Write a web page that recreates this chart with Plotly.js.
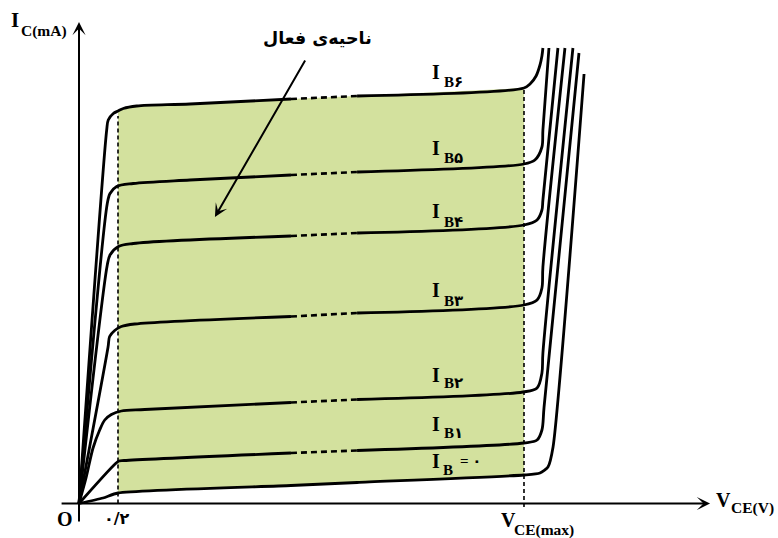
<!DOCTYPE html>
<html><head><meta charset="utf-8">
<script src="https://cdn.plot.ly/plotly-3.0.1.min.js"></script>
<style>html,body{margin:0;padding:0;background:#fff}</style>
</head><body><div id="chart" style="width:778px;height:538px"></div>
<script>
// ---- Data (V_CE in V, I_C in mA) ----
const VCE_SAT = 0.2;          // edge of saturation (۰/۲)
const VCE_MAX = 2.282;        // V_CE(max)
const DASH_FROM = 1.087;      // start of dashed (omitted) stretch
const DASH_TO = 1.426;        // end of dashed stretch

const ib6_v = [0, 0.142, 0.150, 0.176, 0.200, 0.227, 0.296, 0.569, 1.087, 1.426, 2.282, 2.313, 2.344, 2.364, 2.374, 2.379];
const ib6_i = [0, 7.47, 7.67, 7.80, 7.85, 7.90, 7.95, 7.99, 8.09, 8.15, 8.31, 8.39, 8.55, 8.77, 8.95, 9.11];

const ib5_v = [0, 0.145, 0.159, 0.193, 0.278, 0.569, 1.087, 1.426, 2.282, 2.338, 2.374, 2.379, 2.410];
const ib5_i = [0, 6.00, 6.20, 6.34, 6.40, 6.47, 6.57, 6.63, 6.79, 6.87, 7.13, 7.47, 9.11];

const ib4_v = [0, 0.145, 0.159, 0.202, 0.278, 1.087, 1.426, 2.282, 2.349, 2.374, 2.379, 2.456];
const ib4_i = [0, 4.77, 4.97, 5.14, 5.20, 5.35, 5.41, 5.57, 5.67, 5.87, 6.07, 9.11];

const ib3_v = [0, 0.149, 0.157, 0.183, 0.217, 0.286, 1.087, 1.426, 2.282, 2.349, 2.374, 2.379, 2.492];
const ib3_i = [0, 3.13, 3.34, 3.46, 3.54, 3.59, 3.74, 3.81, 3.97, 4.07, 4.31, 4.73, 9.11];

const ib2_v = [0, 0.036, 0.072, 0.106, 0.132, 0.166, 0.217, 0.337, 1.087, 1.426, 2.277, 2.349, 2.374, 2.379, 2.533];
const ib2_i = [0, 0.51, 1.11, 1.47, 1.67, 1.78, 1.85, 1.88, 2.02, 2.08, 2.23, 2.31, 2.61, 3.01, 9.11];

const ib1_v = [0, 0.185, 0.205, 0.231, 1.087, 1.426, 2.282, 2.349, 2.374, 2.385, 2.564];
const ib1_i = [0, 0.79, 0.85, 0.86, 1.01, 1.06, 1.21, 1.27, 1.47, 1.93, 9.01];

const ib0_v = [0, 0.123, 0.200, 1.087, 1.426, 2.282, 2.364, 2.405, 2.431, 2.590];
const ib0_i = [0, 0.11, 0.21, 0.36, 0.42, 0.57, 0.61, 0.73, 1.13, 8.59];

const curveLabels = ['۶', '۵', '۴', '۳', '۲', '۱'];
const dashedCurves = [[ib6_v, ib6_i], [ib5_v, ib5_i], [ib4_v, ib4_i], [ib3_v, ib3_i], [ib2_v, ib2_i], [ib1_v, ib1_i]];

// ---- Styles ----
const BLACK = '#000';
const GREEN = 'rgb(211,225,158)';
const SERIF = '"Liberation Serif","Times New Roman","DejaVu Sans",serif';
const FA = '"DejaVu Sans",sans-serif';
const W = 778, H = 538;

function at(vArr, iArr, v) { const k = vArr.indexOf(v); return iArr[k]; }

const traces = [];
// green active region: between IB6 (top) and IB0 (bottom), V_CE from 0.2 to V_CE(max)
const topV = [], topI = [], botV = [], botI = [];
ib6_v.forEach((v, k) => { if (v >= VCE_SAT && v <= VCE_MAX) { topV.push(v); topI.push(ib6_i[k]); } });
ib0_v.forEach((v, k) => { if (v >= VCE_SAT && v <= VCE_MAX) { botV.push(v); botI.push(ib0_i[k]); } });
traces.push({
  x: topV.concat(botV.slice().reverse()), y: topI.concat(botI.slice().reverse()),
  mode: 'lines', fill: 'toself', fillcolor: GREEN, line: {width: 0, color: GREEN}, hoverinfo: 'skip'
});

// vertical dashed guides
traces.push({x: [VCE_SAT, VCE_SAT], y: [0, at(ib6_v, ib6_i, VCE_SAT) - 0.1], mode: 'lines',
  line: {color: BLACK, width: 1.6, dash: '4px,3px'}});
traces.push({x: [VCE_MAX, VCE_MAX], y: [-0.07, at(ib6_v, ib6_i, VCE_MAX)], mode: 'lines',
  line: {color: BLACK, width: 1.6, dash: '4px,3px'}});

const solid = {color: BLACK, width: 2.8, shape: 'spline', smoothing: 0.9};
function part(v, i, lo, hi) {
  const x = [], y = [];
  v.forEach((vv, k) => { if (vv >= lo && vv <= hi) { x.push(vv); y.push(i[k]); } });
  return {x, y};
}
dashedCurves.forEach(([v, i]) => {
  const a = part(v, i, -1, DASH_FROM), b = part(v, i, DASH_FROM, DASH_TO), c = part(v, i, DASH_TO, 99);
  traces.push(Object.assign({mode: 'lines', line: solid}, a));
  traces.push(Object.assign({mode: 'lines', line: {color: BLACK, width: 2.6, dash: '6px,4px'}}, b));
  traces.push(Object.assign({mode: 'lines', line: solid}, c));
});
traces.push({x: ib0_v, y: ib0_i, mode: 'lines', line: {color: BLACK, width: 2.8, shape: 'spline', smoothing: 0.6}});

// ---- Layout ----
function lab(text, xpx, ypx, size, family, anchor) {
  return {text: text, xref: 'paper', yref: 'paper', x: xpx / W, y: 1 - ypx / H,
    xanchor: anchor || 'center', yanchor: 'middle', showarrow: false,
    font: {family: family || SERIF, size: size, color: BLACK}};
}
const ann = [
  // axes with arrow heads
  {x: 3.236, y: 0, ax: -0.097, ay: 0, xref: 'x', yref: 'y', axref: 'x', ayref: 'y', text: '',
    showarrow: true, arrowhead: 3, arrowwidth: 2, arrowsize: 1.1, arrowcolor: BLACK, standoff: 0},
  {x: 0, y: 9.63, ax: 0, ay: -0.39, xref: 'x', yref: 'y', axref: 'x', ayref: 'y', text: '',
    showarrow: true, arrowhead: 3, arrowwidth: 2, arrowsize: 1.1, arrowcolor: BLACK, standoff: 0},
  // active region pointer
  {x: 0.697, y: 5.73, ax: 1.164, ay: 8.89, xref: 'x', yref: 'y', axref: 'x', ayref: 'y', text: '',
    showarrow: true, arrowhead: 3, arrowwidth: 2, arrowsize: 1.1, arrowcolor: BLACK, standoff: 0},
  lab('<b>ناحیه\u200cی فعال</b>', 317, 38, 17.5, FA),
  lab('<b>I</b>', 15, 20, 21), lab('<b>C(mA)</b>', 43.5, 31.5, 15.5),
  lab('<b>V</b>', 723.5, 499.5, 20), lab('<b>CE(V)</b>', 752.5, 507.5, 15.5),
  lab('<b>V</b>', 508.5, 519.5, 20), lab('<b>CE(max)</b>', 544, 530, 15.5),
  lab('<b>O</b>', 64.5, 518.5, 20),
  lab('<b>۰/۲</b>', 117, 518.5, 16, FA)
];
const labY = [[71.7, 82], [148.3, 158], [211, 222], [290, 300.5], [375, 383], [424, 432.5]];
curveLabels.forEach((d, k) => {
  ann.push(lab('<b>I</b>', 436, labY[k][0], 20));
  ann.push(lab('<b>B' + d + '</b>', 442, labY[k][1], 15, SERIF, 'left'));
});
ann.push(lab('<b>I</b>', 436, 460.5, 20));
ann.push(lab('<b>B</b>', 448, 470, 15));
ann.push(lab('<b>= ۰</b>', 470.5, 461, 15));

const layout = {
  width: W, height: H, margin: {l: 0, r: 0, t: 0, b: 0},
  paper_bgcolor: '#fff', plot_bgcolor: 'rgba(0,0,0,0)', showlegend: false, hovermode: false,
  xaxis: {range: [-79 / 195, (W - 79) / 195], visible: false, fixedrange: true},
  yaxis: {range: [(503.5 - H) / 50, 503.5 / 50], visible: false, fixedrange: true},
  annotations: ann
};
Plotly.newPlot('chart', traces, layout, {staticPlot: true, displayModeBar: false});
</script></body></html>
